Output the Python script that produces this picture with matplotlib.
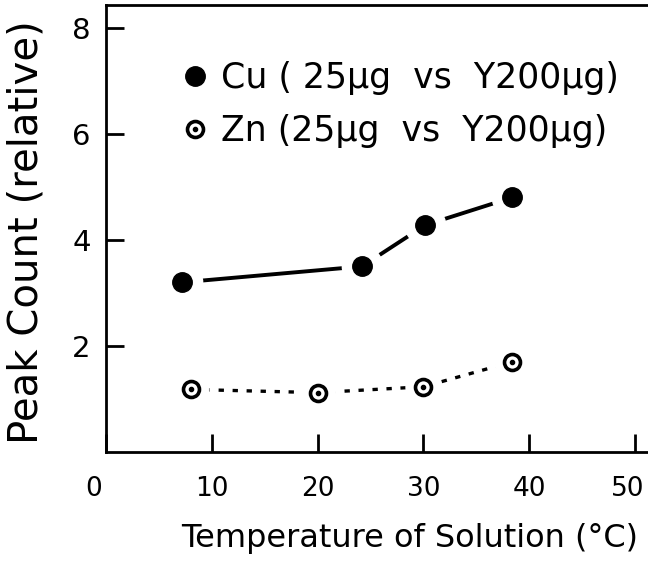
import matplotlib
matplotlib.use("Agg")
from matplotlib import pyplot as plt
from matplotlib.lines import Line2D
from matplotlib.transforms import ScaledTranslation

# values
cu_temp = [7.2, 24.2, 30.2, 38.4]
cu_peak = [3.2, 3.5, 4.28, 4.8]
zn_temp = [8.0, 20.0, 30.0, 38.4]
zn_peak = [1.18, 1.12, 1.23, 1.7]

xticks = [0, 10, 20, 30, 40, 50]
yticks = [2, 4, 6, 8]
cu_label = "Cu ( 25μg  vs  Y200μg)"
zn_label = "Zn (25μg  vs  Y200μg)"

plt.rcParams["font.family"] = ["DejaVu Sans"]

fig = plt.figure(figsize=(6.48, 5.73), dpi=100)
ax = fig.add_axes([106 / 648, 1 - 452 / 573, 542 / 648, 447 / 573])
ax.set_xlim(0, 51.25)
ax.set_ylim(0, 8.43)

# Cu: solid curve broken near each point
ax.plot(cu_temp, cu_peak, color="black", lw=2.8, solid_capstyle="butt", zorder=1)
ax.plot(cu_temp, cu_peak, ls="none", marker="o", ms=29, mfc="white", mec="white", zorder=2)
ax.plot(cu_temp, cu_peak, ls="none", marker="o", ms=14, mfc="black", mec="black", zorder=3)

# Zn: dotted curve
ax.plot(zn_temp, zn_peak, color="black", lw=2.4, ls=(0, (1.6, 2.6)), zorder=1)
ax.plot(zn_temp, zn_peak, ls="none", marker="o", ms=25, mfc="white", mec="white", zorder=2)
ax.plot(zn_temp, zn_peak, ls="none", marker="o", ms=11.5, mfc="white", mec="black", mew=2.6, zorder=3)
ax.plot(zn_temp, zn_peak, ls="none", marker="o", ms=3, mfc="black", mec="black", zorder=4)

ax.spines["right"].set_visible(False)
for side in ["left", "bottom", "top"]:
    ax.spines[side].set_linewidth(2.0)

ax.set_xticks(xticks)
ax.set_xticklabels([str(t) for t in xticks])
ax.set_yticks(yticks)
ax.set_yticklabels([str(t) for t in yticks])
ax.tick_params(axis="both", direction="in", length=13, width=2.0)
ax.tick_params(axis="x", pad=17, labelsize=19)
ax.tick_params(axis="y", pad=11, labelsize=21)
# hand-drawn "0" sits a little left of the corner, "50" hugs the right edge
xlabels = ax.get_xticklabels()
xlabels[0].set_transform(xlabels[0].get_transform() + ScaledTranslation(-9 / 72, 0, fig.dpi_scale_trans))
xlabels[-1].set_transform(xlabels[-1].get_transform() + ScaledTranslation(-5 / 72, 0, fig.dpi_scale_trans))

cu_handle = Line2D([], [], ls="none", marker="o", ms=14, mfc="black", mec="black")
zn_ring = Line2D([], [], ls="none", marker="o", ms=11.5, mfc="white", mec="black", mew=2.6)
zn_dot = Line2D([], [], ls="none", marker="o", ms=3, mfc="black", mec="black")
ax.legend([cu_handle, (zn_ring, zn_dot)], [cu_label, zn_label],
          loc="upper left", bbox_to_anchor=(0.12, 0.905), frameon=False,
          fontsize=25, handlelength=0.6, handletextpad=0.45, labelspacing=0.55,
          borderaxespad=0)

fig.text(27 / 648, 1 - 232 / 573, "Peak Count (relative)", rotation=90,
         ha="center", va="center", fontsize=29)
fig.text(410 / 648, 1 - 538 / 573, "Temperature of Solution (°C)",
         ha="center", va="center", fontsize=23)

fig.savefig("out.png", dpi=100)
